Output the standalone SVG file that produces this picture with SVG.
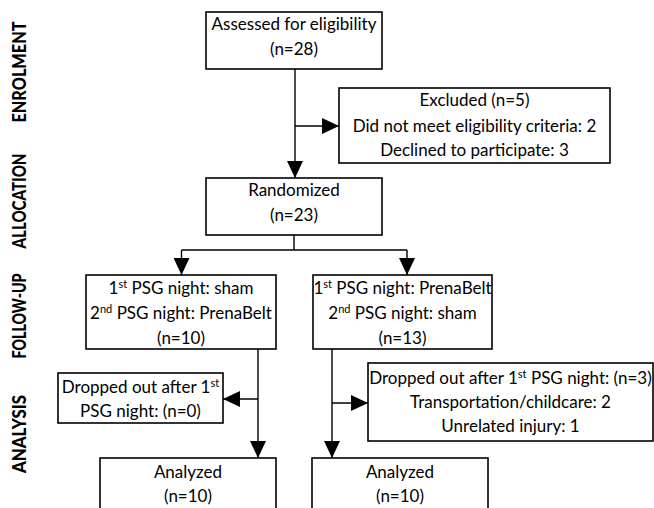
<svg xmlns="http://www.w3.org/2000/svg" width="654" height="508" viewBox="0 0 654 508">
<defs>
<style>
.box{fill:#fff;stroke:#000;stroke-width:1.6}
.t{font-family:Lato,"Liberation Sans",sans-serif;font-size:17px;fill:#000;text-anchor:middle}
.sup{font-size:11px}
.lbl{font-family:Lato,"Liberation Sans",sans-serif;font-size:18px;font-weight:900;fill:#000;text-anchor:middle}
.c{fill:none;stroke:#000;stroke-width:1.4}
</style>
<marker id="ah" viewBox="0 0 17 16" refX="17" refY="8" markerWidth="17" markerHeight="16" markerUnits="userSpaceOnUse" orient="auto">
<path d="M0,0 L17,8 L0,16 z" fill="#000"/>
</marker>
</defs>
<rect width="654" height="508" fill="#fff"/>
<g id="labels">
<text class="lbl" transform="translate(26,72) rotate(-90)" textLength="101" lengthAdjust="spacingAndGlyphs">ENROLMENT</text>
<text class="lbl" transform="translate(26,201) rotate(-90)" textLength="95" lengthAdjust="spacingAndGlyphs">ALLOCATION</text>
<text class="lbl" transform="translate(26,316) rotate(-90)" textLength="85" lengthAdjust="spacingAndGlyphs">FOLLOW-UP</text>
<text class="lbl" transform="translate(26,434) rotate(-90)" textLength="78" lengthAdjust="spacingAndGlyphs">ANALYSIS</text>
</g>
<g id="connectors">
<path class="c" d="M295,69 V178" marker-end="url(#ah)"/>
<path class="c" d="M295,126 H339" marker-end="url(#ah)"/>
<path class="c" d="M294,235 V250"/>
<path class="c" d="M407,250 H181.5"/>
<path class="c" d="M181.5,250 V275" marker-end="url(#ah)"/>
<path class="c" d="M407,250 V275" marker-end="url(#ah)"/>
<path class="c" d="M258,349 V458" marker-end="url(#ah)"/>
<path class="c" d="M258,399 H223" marker-end="url(#ah)"/>
<path class="c" d="M332,349 V458" marker-end="url(#ah)"/>
<path class="c" d="M332,403 H368" marker-end="url(#ah)"/>
</g>
<g id="assessed">
<rect class="box" x="206" y="12" width="176" height="57"/>
<text class="t" x="294" y="30">Assessed for eligibility</text>
<text class="t" x="294" y="55">(n=28)</text>
</g>
<g id="excluded">
<rect class="box" x="339" y="88" width="271" height="75"/>
<text class="t" x="474.5" y="106">Excluded (n=5)</text>
<text class="t" x="474.5" y="132">Did not meet eligibility criteria: 2</text>
<text class="t" x="474.5" y="156">Declined to participate: 3</text>
</g>
<g id="randomized">
<rect class="box" x="206" y="178" width="176" height="57"/>
<text class="t" x="294" y="196">Randomized</text>
<text class="t" x="294" y="221">(n=23)</text>
</g>
<g id="group1">
<rect class="box" x="86" y="275" width="190" height="74"/>
<text class="t" x="181" y="294">1<tspan class="sup" dy="-6">st</tspan><tspan dy="6"> PSG night: sham</tspan></text>
<text class="t" x="181" y="319">2<tspan class="sup" dy="-6">nd</tspan><tspan dy="6"> PSG night: PrenaBelt</tspan></text>
<text class="t" x="181" y="344">(n=10)</text>
</g>
<g id="group2">
<rect class="box" x="313" y="275" width="179" height="74"/>
<text class="t" x="402.5" y="294">1<tspan class="sup" dy="-6">st</tspan><tspan dy="6"> PSG night: PrenaBelt</tspan></text>
<text class="t" x="402.5" y="319">2<tspan class="sup" dy="-6">nd</tspan><tspan dy="6"> PSG night: sham</tspan></text>
<text class="t" x="402.5" y="344">(n=13)</text>
</g>
<g id="dropped1">
<rect class="box" x="58" y="373" width="165" height="50"/>
<text class="t" x="140.5" y="393">Dropped out after 1<tspan class="sup" dy="-6">st</tspan></text>
<text class="t" x="140.5" y="417">PSG night: (n=0)</text>
</g>
<g id="dropped2">
<rect class="box" x="368" y="363" width="285" height="78"/>
<text class="t" x="510.5" y="384">Dropped out after 1<tspan class="sup" dy="-6">st</tspan><tspan dy="6"> PSG night: (n=3)</tspan></text>
<text class="t" x="510.5" y="408">Transportation/childcare: 2</text>
<text class="t" x="510.5" y="432">Unrelated injury: 1</text>
</g>
<g id="analyzed1">
<rect class="box" x="100" y="458" width="176" height="70"/>
<text class="t" x="188" y="478">Analyzed</text>
<text class="t" x="188" y="502">(n=10)</text>
</g>
<g id="analyzed2">
<rect class="box" x="312" y="458" width="176" height="70"/>
<text class="t" x="400" y="478">Analyzed</text>
<text class="t" x="400" y="502">(n=10)</text>
</g>
</svg>
